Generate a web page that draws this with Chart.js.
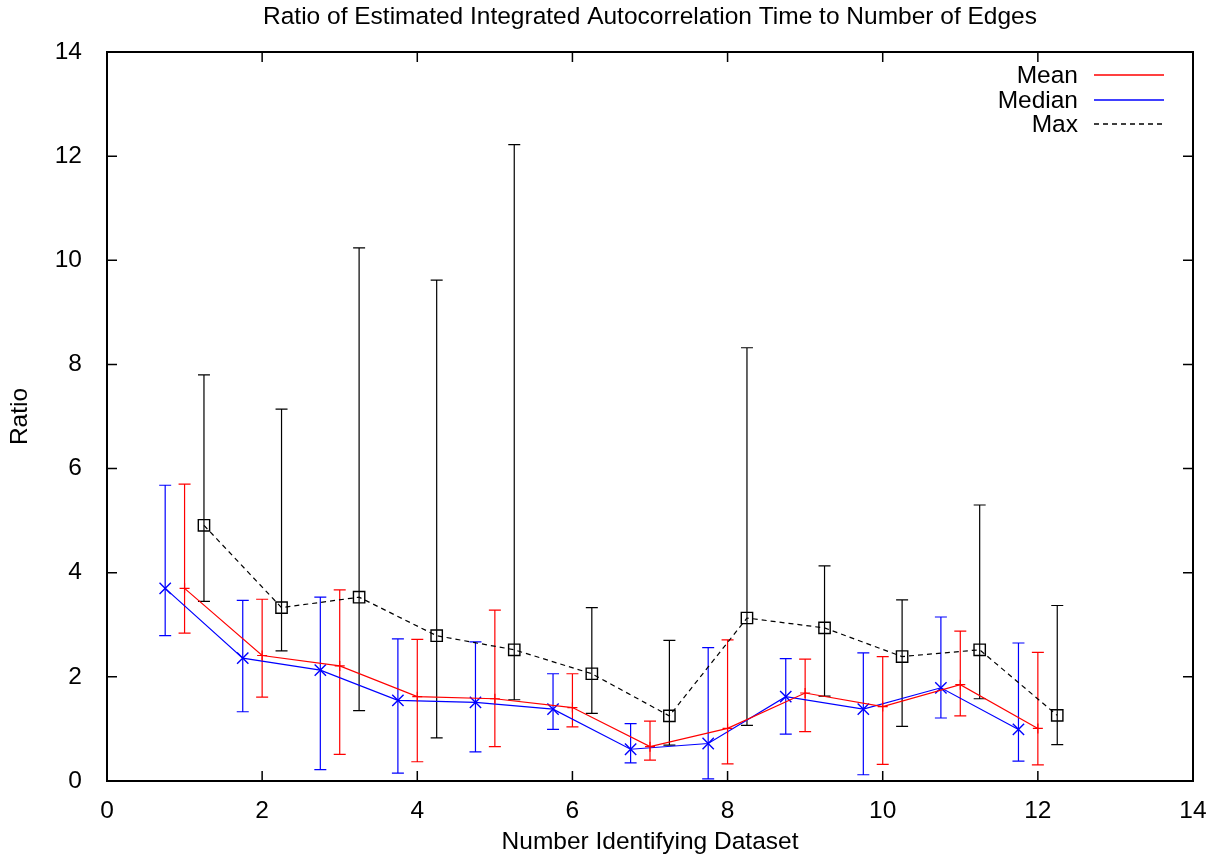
<!DOCTYPE html>
<html>
<head>
<meta charset="utf-8">
<script src="https://cdn.jsdelivr.net/npm/chart.js@4"></script>
<style>
  html, body { margin: 0; padding: 0; background: #fff; }
  #wrap { width: 1221px; height: 858px; }
</style>
</head>
<body>
<div id="wrap"><canvas id="ratio_chart"></canvas></div>
<script>
// valeurs
var xMean = [1, 2, 3, 4, 5, 6, 7, 8, 9, 10, 11, 12];
var meanVal = [3.70, 2.41, 2.21, 1.62, 1.58, 1.41, 0.66, 1.01, 1.69, 1.43, 1.85, 1.01];
var meanLow = [2.84, 1.61, 0.51, 0.37, 0.66, 1.04, 0.40, 0.33, 0.95, 0.32, 1.25, 0.31];
var meanHigh = [5.70, 3.49, 3.67, 2.72, 3.28, 2.06, 1.15, 2.71, 2.34, 2.39, 2.88, 2.47];

var xMedian = [0.75, 1.75, 2.75, 3.75, 4.75, 5.75, 6.75, 7.75, 8.75, 9.75, 10.75, 11.75];
var medianVal = [3.70, 2.36, 2.13, 1.55, 1.51, 1.38, 0.61, 0.72, 1.62, 1.38, 1.79, 0.99];
var medianLow = [2.79, 1.33, 0.22, 0.15, 0.56, 0.99, 0.35, 0.04, 0.90, 0.12, 1.21, 0.38];
var medianHigh = [5.68, 3.47, 3.53, 2.73, 2.67, 2.06, 1.10, 2.56, 2.35, 2.46, 3.15, 2.65];

var xMax = [1.25, 2.25, 3.25, 4.25, 5.25, 6.25, 7.25, 8.25, 9.25, 10.25, 11.25, 12.25];
var maxVal = [4.91, 3.33, 3.53, 2.79, 2.52, 2.06, 1.25, 3.13, 2.94, 2.39, 2.52, 1.26];
var maxLow = [3.45, 2.50, 1.35, 0.83, 1.56, 1.30, 0.69, 1.07, 1.63, 1.05, 1.58, 0.70];
var maxHigh = [7.80, 7.14, 10.24, 9.62, 12.22, 3.33, 2.70, 8.32, 4.13, 3.48, 5.30, 3.37];

var tickValues = [0, 2, 4, 6, 8, 10, 12, 14];

var FONT = '"Liberation Sans", Arial, Helvetica, sans-serif';
var FSIZE = 24.5;

function pts(xs, ys) {
    return xs.map(function (x, i) { return { x: x, y: ys[i] }; });
}

var errorBars = [
    { xs: xMean, lo: meanLow, hi: meanHigh, color: '#ff0000' },
    { xs: xMedian, lo: medianLow, hi: medianHigh, color: '#0000ff' },
    { xs: xMax, lo: maxLow, hi: maxHigh, color: '#000000' }
];

// barres d'erreur, cadre, graduations intérieures et légende façon gnuplot
var gnuplotLook = {
    id: 'gnuplotLook',
    beforeDatasetsDraw: function (chart) {
        var ctx = chart.ctx, xs = chart.scales.x, ys = chart.scales.y;
        ctx.save();
        ctx.lineWidth = 1.2;
        errorBars.forEach(function (eb) {
            ctx.strokeStyle = eb.color;
            eb.xs.forEach(function (x, i) {
                var px = xs.getPixelForValue(x);
                var pl = ys.getPixelForValue(eb.lo[i]);
                var ph = ys.getPixelForValue(eb.hi[i]);
                ctx.beginPath();
                ctx.moveTo(px, pl); ctx.lineTo(px, ph);
                ctx.moveTo(px - 6, pl); ctx.lineTo(px + 6, pl);
                ctx.moveTo(px - 6, ph); ctx.lineTo(px + 6, ph);
                ctx.stroke();
            });
        });
        ctx.restore();
    },
    afterDraw: function (chart) {
        var ctx = chart.ctx, a = chart.chartArea;
        var xs = chart.scales.x, ys = chart.scales.y;
        ctx.save();
        ctx.strokeStyle = '#000';
        ctx.lineWidth = 1.5;
        ctx.beginPath();
        tickValues.forEach(function (v) {
            var px = xs.getPixelForValue(v);
            ctx.moveTo(px, a.bottom); ctx.lineTo(px, a.bottom - 10);
            ctx.moveTo(px, a.top); ctx.lineTo(px, a.top + 10);
            var py = ys.getPixelForValue(v);
            ctx.moveTo(a.left, py); ctx.lineTo(a.left + 10, py);
            ctx.moveTo(a.right, py); ctx.lineTo(a.right - 10, py);
        });
        ctx.stroke();
        ctx.lineWidth = 2;
        ctx.strokeRect(a.left, a.top, a.right - a.left, a.bottom - a.top);

        // légende
        var items = [
            { label: 'Mean', color: 'rgb(255,0,0)', dash: [] },
            { label: 'Median', color: 'rgb(0,0,255)', dash: [] },
            { label: 'Max', color: 'rgb(0,0,0)', dash: [5, 4] }
        ];
        ctx.font = FSIZE + 'px ' + FONT;
        ctx.textAlign = 'right';
        ctx.textBaseline = 'middle';
        for (var i = 0; i < items.length; i++) {
            var it = items[i];
            var y = Math.round(a.top + 23 + i * 24.5);
            ctx.fillStyle = '#000';
            ctx.fillText(it.label, a.right - 115, y + 1);
            ctx.beginPath();
            ctx.setLineDash(it.dash);
            ctx.strokeStyle = it.color;
            ctx.lineWidth = 1.6;
            ctx.moveTo(a.right - 99, y);
            ctx.lineTo(a.right - 29, y);
            ctx.stroke();
        }
        ctx.restore();
    }
};

var ctx = document.getElementById('ratio_chart').getContext('2d');
var myChart = new Chart(ctx, {
    type: 'line',
    data: {
        datasets: [{
            label: 'Mean',
            data: pts(xMean, meanVal),
            borderColor: '#ff0000',
            borderWidth: 1.2,
            pointStyle: 'cross',
            pointRadius: 5,
            pointBorderColor: '#ff0000',
            pointBorderWidth: 1.2,
            fill: false,
            tension: 0
        }, {
            label: 'Median',
            data: pts(xMedian, medianVal),
            borderColor: '#0000ff',
            borderWidth: 1.2,
            pointStyle: 'crossRot',
            pointRadius: 8,
            pointBorderColor: '#0000ff',
            pointBorderWidth: 1.4,
            fill: false,
            tension: 0
        }, {
            label: 'Max',
            data: pts(xMax, maxVal),
            borderColor: '#000000',
            borderWidth: 1.2,
            borderDash: [5, 4],
            pointStyle: 'rect',
            pointRadius: 8,
            pointBorderColor: '#000000',
            pointBackgroundColor: 'rgba(0,0,0,0)',
            pointBorderWidth: 1.4,
            fill: false,
            tension: 0
        }]
    },
    options: {
        responsive: true,
        maintainAspectRatio: false,
        animation: false,
        layout: { padding: { left: 0, right: 28, top: 0, bottom: 0 } },
        scales: {
            x: {
                type: 'linear',
                min: 0, max: 14,
                ticks: { stepSize: 2, padding: 8, color: '#000', font: { family: FONT, size: FSIZE } },
                grid: { display: false },
                border: { display: false },
                title: {
                    display: true,
                    text: 'Number Identifying Dataset',
                    color: '#000',
                    font: { family: FONT, size: FSIZE },
                    padding: { top: 0, bottom: 1 }
                },
                afterFit: function (scale) { scale.height = 77; }
            },
            y: {
                type: 'linear',
                min: 0, max: 14,
                ticks: { stepSize: 2, padding: 17, color: '#000', font: { family: FONT, size: FSIZE } },
                grid: { display: false },
                border: { display: false },
                title: {
                    display: true,
                    text: 'Ratio',
                    color: '#000',
                    font: { family: FONT, size: FSIZE },
                    padding: { top: 6, bottom: 0 }
                },
                afterFit: function (scale) { scale.width = 107; }
            }
        },
        plugins: {
            legend: { display: false },
            tooltip: { enabled: false },
            title: {
                display: true,
                fullSize: false,
                text: 'Ratio of Estimated Integrated Autocorrelation Time to Number of Edges',
                color: '#000',
                font: { family: FONT, size: FSIZE, weight: 'normal' },
                padding: { top: 3, bottom: 19.6 }
            }
        }
    },
    plugins: [gnuplotLook]
});
</script>
</body>
</html>
